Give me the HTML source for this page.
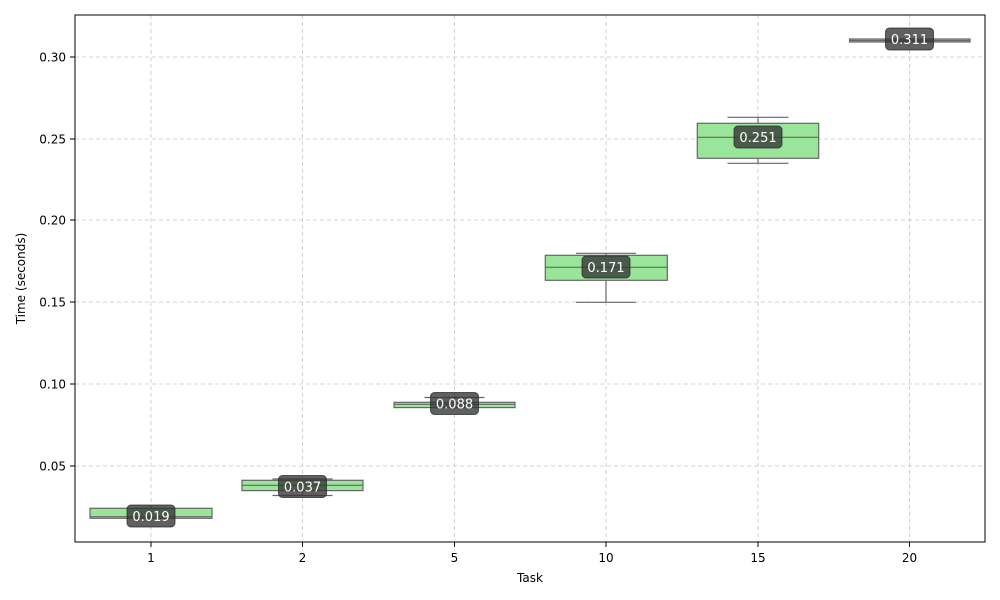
<!DOCTYPE html>
<html><head><meta charset="utf-8"><style>
body{margin:0;background:#fff;}
svg{display:block;font-family:"DejaVu Sans","Liberation Sans",sans-serif;}
</style></head><body>
<svg width="1000" height="600" viewBox="0 0 1000 600">
<rect width="1000" height="600" fill="#fff"/>
<g stroke="#c8c8c8" stroke-width="0.8" stroke-dasharray="4,3">
<line x1="75" x2="985" y1="57" y2="57"/>
<line x1="75" x2="985" y1="139" y2="139"/>
<line x1="75" x2="985" y1="220" y2="220"/>
<line x1="75" x2="985" y1="302" y2="302"/>
<line x1="75" x2="985" y1="384" y2="384"/>
<line x1="75" x2="985" y1="466" y2="466"/>
<line y1="15" y2="542" x1="151" x2="151"/>
<line y1="15" y2="542" x1="302.5" x2="302.5"/>
<line y1="15" y2="542" x1="454.5" x2="454.5"/>
<line y1="15" y2="542" x1="606" x2="606"/>
<line y1="15" y2="542" x1="758" x2="758"/>
<line y1="15" y2="542" x1="909.5" x2="909.5"/>
</g>
<g stroke="#666" stroke-width="1.2" fill="#99e599">
<!-- 1 -->
<line x1="151" x2="151" y1="506" y2="520"/>
<rect x="90" y="508.3" width="122" height="10"/>
<line x1="90" x2="212" y1="516.7" y2="516.7"/>
<!-- 2 -->
<line x1="302.5" x2="302.5" y1="479" y2="495.5"/>
<line x1="272.5" x2="332.5" y1="479" y2="479"/><line x1="272.5" x2="332.5" y1="495.5" y2="495.5"/>
<rect x="242" y="480.3" width="121" height="10.3"/>
<line x1="242" x2="363" y1="485.3" y2="485.3"/>
<!-- 5 -->
<line x1="454.5" x2="454.5" y1="397.5" y2="409"/>
<line x1="424.5" x2="484.5" y1="397.5" y2="397.5"/>
<rect x="394" y="402.3" width="121" height="5.3"/>
<line x1="394" x2="515" y1="404.3" y2="404.3"/>
<!-- 10 -->
<line x1="606" x2="606" y1="253.3" y2="302.3"/>
<line x1="576" x2="636" y1="253.3" y2="253.3"/><line x1="576" x2="636" y1="302.3" y2="302.3"/>
<rect x="545.3" y="255.3" width="122" height="25"/>
<line x1="545.3" x2="667.3" y1="267.3" y2="267.3"/>
<!-- 15 -->
<line x1="758" x2="758" y1="117.3" y2="163.3"/>
<line x1="727.5" x2="788.5" y1="117.3" y2="117.3"/><line x1="727.5" x2="788.5" y1="163.3" y2="163.3"/>
<rect x="697.3" y="123.3" width="121.4" height="35"/>
<line x1="697.3" x2="818.7" y1="137.3" y2="137.3"/>
<!-- 20 -->
<rect x="849.5" y="39" width="120.5" height="3"/>
<line x1="849.5" x2="970" y1="40.5" y2="40.5"/>
</g>
<g fill="#333" fill-opacity="0.78" stroke="#222" stroke-opacity="0.7" stroke-width="1">
<rect x="127" y="505" width="48" height="22" rx="4"/>
<rect x="278.5" y="475.5" width="48" height="22" rx="4"/>
<rect x="430.5" y="392.5" width="48" height="22" rx="4"/>
<rect x="582" y="256" width="48" height="22" rx="4"/>
<rect x="734" y="126" width="48" height="22" rx="4"/>
<rect x="885.5" y="28" width="48" height="22" rx="4"/>
</g>
<g fill="#fff" font-size="13" text-anchor="middle">
<text x="151" y="521">0.019</text>
<text x="302.5" y="491.5">0.037</text>
<text x="454.5" y="408.5">0.088</text>
<text x="606" y="272">0.171</text>
<text x="758" y="142">0.251</text>
<text x="909.5" y="44">0.311</text>
</g>
<rect x="75" y="15" width="910" height="527" fill="none" stroke="#000" stroke-width="1"/>
<g stroke="#000" stroke-width="1">
<line x1="70" x2="75" y1="57" y2="57"/><line x1="70" x2="75" y1="139" y2="139"/><line x1="70" x2="75" y1="220" y2="220"/>
<line x1="70" x2="75" y1="302" y2="302"/><line x1="70" x2="75" y1="384" y2="384"/><line x1="70" x2="75" y1="466" y2="466"/>
<line y1="542" y2="547" x1="151" x2="151"/><line y1="542" y2="547" x1="302.5" x2="302.5"/><line y1="542" y2="547" x1="454.5" x2="454.5"/>
<line y1="542" y2="547" x1="606" x2="606"/><line y1="542" y2="547" x1="758" x2="758"/><line y1="542" y2="547" x1="909.5" x2="909.5"/>
</g>
<g font-size="12" fill="#000" text-anchor="end">
<text x="66" y="61.5">0.30</text><text x="66" y="143.5">0.25</text><text x="66" y="224.5">0.20</text>
<text x="66" y="306.5">0.15</text><text x="66" y="388.5">0.10</text><text x="66" y="470.5">0.05</text>
</g>
<g font-size="12" fill="#000" text-anchor="middle">
<text x="151" y="562">1</text><text x="302.5" y="562">2</text><text x="454.5" y="562">5</text>
<text x="606" y="562">10</text><text x="758" y="562">15</text><text x="909.5" y="562">20</text>
<text x="530" y="582">Task</text>
<text transform="translate(25,278.5) rotate(-90)">Time (seconds)</text>
</g>
</svg>
</body></html>
